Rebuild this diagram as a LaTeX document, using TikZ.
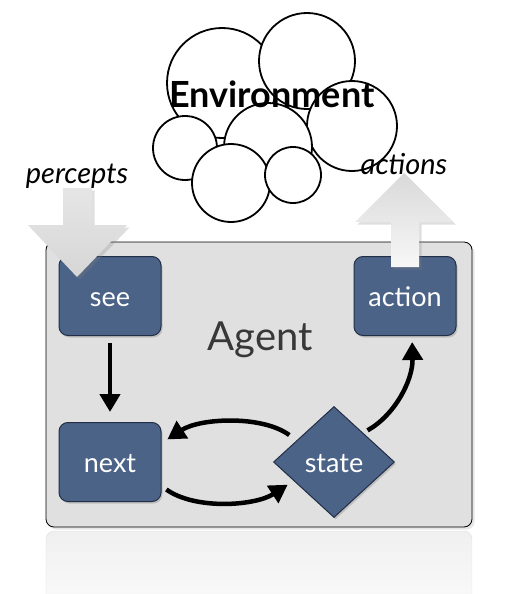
\documentclass[tikz,border=0pt]{standalone}
\usepackage{fontspec}
\setmainfont{Lato}
\usetikzlibrary{shapes.geometric,arrows.meta,shadows,positioning}
\definecolor{boxblue}{RGB}{76,99,136}
\definecolor{boxedge}{RGB}{34,46,70}
\definecolor{agentgray}{RGB}{224,224,224}

\begin{document}
\begin{tikzpicture}[x=1pt,y=-1pt]
  \tikzstyle{module} = [rectangle, rounded corners=9pt, draw=boxedge, line width=1pt, fill=boxblue, text=white, minimum width=102pt, minimum height=79pt, text height=21pt, text depth=0pt, font=\fontsize{27}{27}\selectfont, drop shadow={opacity=0.35, shadow xshift=1.5pt, shadow yshift=-2pt}]
  \tikzstyle{statebox} = [module, diamond, rounded corners=0pt, minimum width=121pt, minimum height=111pt, inner sep=0pt, aspect=1.09]
  \tikzstyle{flow} = [line width=4.5pt, -{Triangle[length=18pt, width=20pt]}]
  \tikzstyle{puff} = [draw, line width=1.8pt, fill=white]
  \tikzstyle{io} = [font=\fontsize{29}{29}\selectfont\itshape, anchor=base]

  \useasboundingbox (0,0) rectangle (507,594);

  % cloud
  \foreach \cx/\cy/\r in {222/83/55, 307/61/48, 352/126/45, 185/148/32, 268/147/44, 231/183/39, 293/175/28}
    \filldraw[puff] (\cx,\cy) circle (\r pt);
  \node[font=\fontsize{36}{36}\selectfont\bfseries, anchor=base] (env) at (272,107) {Environment};

  % agent
  \shade[top color=gray!12, bottom color=white, draw=gray!25, rounded corners=8pt] (46,640) rectangle (472,531);
  \node[rectangle, rounded corners=8pt, draw, line width=0.8pt, fill=agentgray, minimum width=426pt, minimum height=285pt, drop shadow={opacity=0.2}] (agent) at (259,384.5) {};
  \node[font=\fontsize{40}{40}\selectfont, text=black!78, anchor=base] (agentlabel) at (260,350) {Agent};

  \node[module] (see) at (110,296) {see};
  \node[module] (action) at (405,296) {action};
  \node[module] (next) at (110,462) {next};
  \node[statebox] (state) at (334,462) {state};

  \draw[flow, shorten <=7pt, shorten >=10pt] (see) -- (next);
  \draw[flow, shorten <=9pt, shorten >=7pt] (state.150) .. controls (262,415) and (200,418) .. (next.20);
  \draw[flow, shorten <=6pt, shorten >=7pt] (next.-25) .. controls (195,510) and (255,506) .. (state.205);
  \draw[flow, shorten <=5pt, shorten >=6pt] (state.45) .. controls (395,415) and (413,380) .. (action.-80);

  % percepts / actions
  \node[io] (percepts) at (77,183) {percepts};
  \node[io] (actions) at (404,174) {actions};
  \shade[top color=gray!20, bottom color=gray!32, drop shadow={opacity=0.25}] (63,188) -- (92,188) -- (92,225) -- (127,225) -- (77,277) -- (28,225) -- (63,225) -- cycle;
  \shade[top color=gray!30, bottom color=gray!6, drop shadow={opacity=0.25}] (391,267) -- (419,267) -- (419,222) -- (453,222) -- (404,173) -- (355,222) -- (391,222) -- cycle;
\end{tikzpicture}
\end{document}
